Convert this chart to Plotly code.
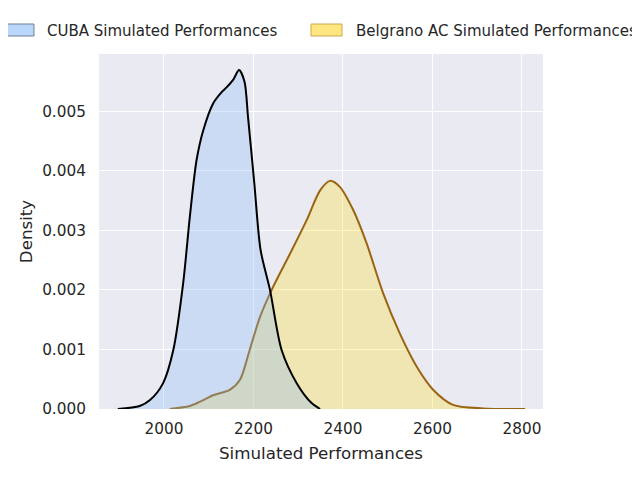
"""Density curves of simulated performances, drawn with plotly."""

import plotly.graph_objects as go

# CUBA density curve
cuba_x = [1897, 1946, 1969, 1998, 2021, 2043, 2058, 2073, 2088, 2110, 2129,
          2140, 2155, 2168, 2180, 2188, 2202, 2216, 2237, 2263, 2297, 2330, 2349]
cuba_y = [0, 0.00005, 0.00015, 0.00043, 0.00099, 0.00211, 0.00323, 0.00418,
          0.00468, 0.00513, 0.00532, 0.0054, 0.00553, 0.00569, 0.0055, 0.0049,
          0.00379, 0.00267, 0.002, 0.00099, 0.00043, 0.0001, 0]

# Belgrano AC density curve
belgrano_x = [2013, 2058, 2080, 2110, 2147, 2170, 2192, 2215, 2244, 2282, 2319,
              2349, 2371, 2393, 2423, 2453, 2490, 2527, 2565, 2602, 2646, 2713, 2807]
belgrano_y = [0, 0.00005, 0.00012, 0.00023, 0.00032, 0.00049, 0.001, 0.00155,
              0.00205, 0.00261, 0.00317, 0.00367, 0.00383, 0.00373, 0.00334,
              0.00278, 0.00194, 0.00127, 0.00071, 0.00032, 0.00007, 0.00001, 0]

legend_labels = ['CUBA Simulated Performances',
                 'Belgrano AC Simulated Performances']
x_ticks = [2000, 2200, 2400, 2600, 2800]
y_ticks = [0, 0.001, 0.002, 0.003, 0.004, 0.005]

font_color = '#262626'

fig = go.Figure()

# Belgrano below, CUBA on top (as in the original)
fig.add_trace(go.Scatter(
    x=belgrano_x, y=belgrano_y, mode='lines', fill='tozeroy',
    fillcolor='rgba(254,221,35,0.3)',
    line=dict(color='#9a6412', width=2, shape='spline', smoothing=0.8),
    showlegend=False, name=legend_labels[1],
))
fig.add_trace(go.Scatter(
    x=cuba_x, y=cuba_y, mode='lines', fill='tozeroy',
    fillcolor='rgba(134,187,249,0.3)',
    line=dict(color='black', width=2, shape='spline', smoothing=0.8),
    showlegend=False, name=legend_labels[0],
))

# hand-made legend above the plot (paper coordinates)
patches = [
    dict(x0=-0.2185, x1=-0.1464, fill='#b9d6fb', edge='#6f7f95', tx=-0.1216),
    dict(x0=0.4775, x1=0.5473, fill='#ffe680', edge='#c8aa50', tx=0.5743),
]
for label, p in zip(legend_labels, patches):
    fig.add_shape(type='rect', xref='paper', yref='paper',
                  x0=p['x0'], x1=p['x1'], y0=1.0507, y1=1.0845,
                  fillcolor=p['fill'], line=dict(color=p['edge'], width=1))
    fig.add_annotation(text=label, xref='paper', yref='paper', x=p['tx'],
                       y=1.0648, xanchor='left', yanchor='middle',
                       showarrow=False, font=dict(size=15, color=font_color))

# the page body adds an 8px margin, so the figure is 8px smaller
# and its left/top margins are 8px less
fig.update_layout(
    width=632, height=472,
    margin=dict(l=91, r=97, t=46, b=71),
    paper_bgcolor='white', plot_bgcolor='#eaeaf2',
    font=dict(family='DejaVu Sans', size=15.3, color=font_color),
    showlegend=False,
)
fig.update_xaxes(
    range=[1855, 2847], tickvals=x_ticks, showgrid=True, gridcolor='white',
    gridwidth=1.3, zeroline=False, ticks='outside', ticklen=6,
    tickcolor='rgba(0,0,0,0)', automargin=False,
    title=dict(text='Simulated Performances', font=dict(size=16.7), standoff=9),
)
fig.update_yaxes(
    range=[0, 0.00596], tickvals=y_ticks, tickformat='.3f', showgrid=True,
    gridcolor='white', gridwidth=1.3, zeroline=False, ticks='outside',
    ticklen=9, tickcolor='rgba(0,0,0,0)', automargin=False,
    title=dict(text='Density', font=dict(size=16.7), standoff=5),
)

fig.write_html("out.html")
